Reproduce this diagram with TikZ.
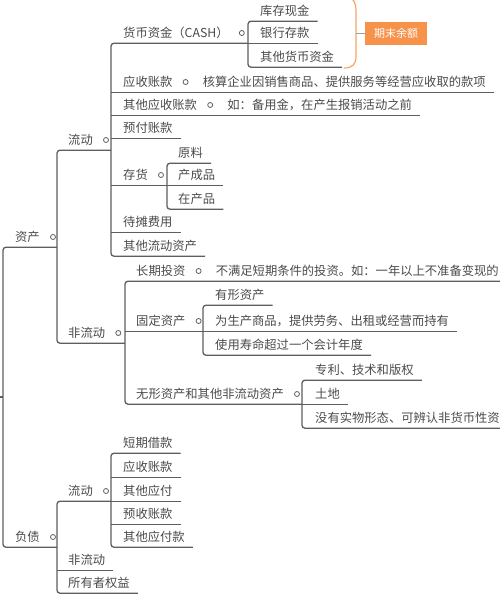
\documentclass[tikz,border=0pt]{standalone}
\usepackage{fontspec}
\newfontfamily\cjk{Noto Sans CJK SC}
\definecolor{txtgray}{HTML}{4A4A4A}
\definecolor{lngray}{HTML}{5E5E5E}
\definecolor{orangebox}{HTML}{F7924A}
\definecolor{orangeln}{HTML}{F2A568}
\begin{document}
\begin{tikzpicture}[x=1pt,y=-1pt,
  it/.style={anchor=west, inner xsep=8pt, inner ysep=0pt, minimum height=20pt, text=txtgray, font=\cjk\fontsize{12.3}{14}\selectfont},
  ln/.style={draw=lngray, line width=1.3pt, rounded corners=3pt},
  dot/.style={circle, draw=lngray, line width=0.8pt, inner sep=0pt, minimum size=5pt}]
\useasboundingbox (0,0) rectangle (500,600);
\clip (0,0) rectangle (500,600);
% branch columns
\coordinate (R) at (3,0);
\coordinate (B0) at (57,0);
\coordinate (B1) at (111,0);
\coordinate (B2) at (248,0);
\coordinate (B3) at (167,0);
\coordinate (B4) at (125,0);
\coordinate (B5) at (203,0);
\coordinate (B6) at (302,0);
\coordinate (B7) at (57,0);
\coordinate (B8) at (111,0);
\coordinate (root) at (-5,397);
% ---------- assets
\node[it] (zc) at (7,237) {资产};
\node[dot] (czc) at ([xshift=5pt]zc.east) {};
\node[it] (ld1) at (60,140) {流动};
\node[dot] (cld1) at ([xshift=5pt]ld1.east) {};
\node[it] (hbzj) at (115,33) {货币资金（CASH）};
\node[dot] (chbzj) at ([xshift=5pt]hbzj.east) {};
\node[it] (kcxj) at (252,11) {库存现金};
\node[it] (yhck) at (252,33) {银行存款};
\node[it] (qthb) at (252,57) {其他货币资金};
\node[it] (yszk) at (115,82) {应收账款};
\node[dot] (cyszk) at ([xshift=5pt]yszk.east) {};
\node[it] (yszkd) at ([xshift=9pt]cyszk.center) {核算企业因销售商品、提供服务等经营应收取的款项};
\node[it] (qtys) at (115,105) {其他应收账款};
\node[dot] (cqtys) at ([xshift=5pt]qtys.east) {};
\node[it] (qtysd) at ([xshift=9pt]cqtys.center) {如：备用金，在产生报销活动之前};
\node[it] (yfzk) at (115,128) {预付账款};
\node[it] (ch) at (115,175) {存货};
\node[dot] (cch) at ([xshift=5pt]ch.east) {};
\node[it] (yl) at (170,153) {原料};
\node[it] (ccp) at (170,175) {产成品};
\node[it] (zcp) at (170,199) {在产品};
\node[it] (dtfy) at (115,222) {待摊费用};
\node[it] (qtld) at (115,246) {其他流动资产};
\node[it] (fld1) at (60,333) {非流动};
\node[dot] (cfld1) at ([xshift=5pt]fld1.east) {};
\node[it] (cqtz) at (128,271) {长期投资};
\node[dot] (ccqtz) at ([xshift=5pt]cqtz.east) {};
\node[it] (cqtzd) at ([xshift=9pt]ccqtz.center) {不满足短期条件的投资。如：一年以上不准备变现的};
\node[it] (gdzc) at (128,321) {固定资产};
\node[dot] (cgdzc) at ([xshift=5pt]gdzc.east) {};
\node[it] (yxzc) at (207,295) {有形资产};
\node[it] (wsc) at (207,321) {为生产商品，提供劳务、出租或经营而持有};
\node[it] (syss) at (207,345) {使用寿命超过一个会计年度};
\node[it] (wxzc) at (128,394) {无形资产和其他非流动资产};
\node[dot] (cwxzc) at ([xshift=5pt]wxzc.east) {};
\node[it] (zl) at (307,370) {专利、技术和版权};
\node[it] (td) at (307,394) {土地};
\node[it] (mysw) at (307,418) {没有实物形态、可辨认非货币性资};
% ---------- liabilities
\node[it] (fz) at (7,537) {负债};
\node[dot] (cfz) at ([xshift=5pt]fz.east) {};
\node[it] (ld2) at (60,491) {流动};
\node[dot] (cld2) at ([xshift=5pt]ld2.east) {};
\node[it] (dqjk) at (115,443) {短期借款};
\node[it] (yszk2) at (115,467) {应收账款};
\node[it] (qtyf) at (115,491) {其他应付};
\node[it] (ysk) at (115,514) {预收账款};
\node[it] (qtyfk) at (115,537) {其他应付款};
\node[it] (fld2) at (60,560) {非流动};
\node[it] (syzqy) at (60,583) {所有者权益};
% ---------- summary
\node[fill=orangebox, text=white, font=\cjk\fontsize{11}{13}\selectfont, minimum width=62pt, minimum height=23pt, inner sep=0pt] (qmye) at (396,33) {期末余额};
\coordinate (sm) at (356,33);
\draw[draw=orangeln, line width=1.2pt] (344,-4) .. controls (353,-4) and (356,2) .. (356,12) -- (356,56) .. controls (356,64) and (353,68) .. (344,68);
\draw[draw=lngray!60, line width=0.8pt] (sm) -- (qmye.west);
% ---------- connectors
\draw[ln] (root) -- (R |- root);
\draw[ln] (B0 |- zc.south) -- (R |- zc.south) -- (R |- fz.south) -- (B7 |- fz.south);
\draw[ln] (B1 |- ld1.south) -- (B0 |- ld1.south) -- (B0 |- fld1.south) -- (B4 |- fld1.south);
\draw[ln] (B2 |- hbzj.south) -- (B1 |- hbzj.south) -- (B1 |- qtld.south) -- (qtld.south east);
\draw[ln] (kcxj.south east) -- (B2 |- kcxj.south) -- (B2 |- qthb.south) -- (qthb.south east);
\draw[ln] (B2 |- yhck.south) -- (yhck.south east);
\draw[ln] (B1 |- yszk.south) -- (yszkd.south east);
\draw[ln] (B1 |- qtys.south) -- (qtysd.south east);
\draw[ln] (B1 |- yfzk.south) -- (yfzk.south east);
\draw[ln] (B1 |- ch.south) -- (B3 |- ch.south);
\draw[ln] (yl.south east) -- (B3 |- yl.south) -- (B3 |- zcp.south) -- (zcp.south east);
\draw[ln] (B3 |- ccp.south) -- (ccp.south east);
\draw[ln] (B1 |- dtfy.south) -- (dtfy.south east);
\draw[ln] (cqtzd.south east) -- (B4 |- cqtz.south) -- (B4 |- wxzc.south) -- (B6 |- wxzc.south);
\draw[ln] (B4 |- gdzc.south) -- (B5 |- gdzc.south);
\draw[ln] (yxzc.south east) -- (B5 |- yxzc.south) -- (B5 |- syss.south) -- (syss.south east);
\draw[ln] (B5 |- wsc.south) -- (wsc.south east);
\draw[ln] (zl.south east) -- (B6 |- zl.south) -- (B6 |- mysw.south) -- (mysw.south east);
\draw[ln] (B6 |- td.south) -- (td.south east);
\draw[ln] (B8 |- ld2.south) -- (B7 |- ld2.south) -- (B7 |- syzqy.south) -- (syzqy.south east);
\draw[ln] (B7 |- fld2.south) -- (fld2.south east);
\draw[ln] (dqjk.south east) -- (B8 |- dqjk.south) -- (B8 |- qtyfk.south) -- (qtyfk.south east);
\draw[ln] (B8 |- yszk2.south) -- (yszk2.south east);
\draw[ln] (B8 |- qtyf.south) -- (qtyf.south east);
\draw[ln] (B8 |- ysk.south) -- (ysk.south east);
\end{tikzpicture}
\end{document}
